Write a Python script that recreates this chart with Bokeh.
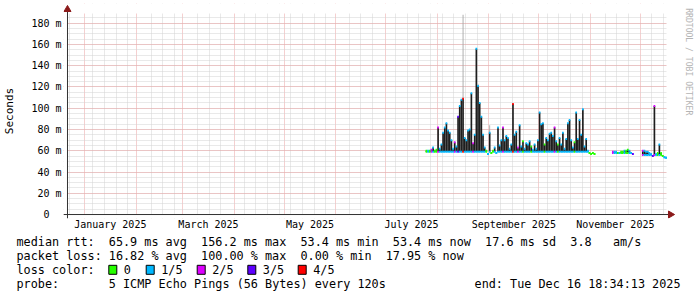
from datetime import datetime, timedelta
from bokeh.plotting import figure
from bokeh.layouts import column, row
from bokeh.models import Range1d, FixedTicker, BoxAnnotation, ColumnDataSource
from bokeh.core.properties import value
from bokeh.embed import file_html
from bokeh.resources import INLINE

# ---------------- data ----------------
graph_start = "2024-12-21 18:34:13"
graph_end = "2025-12-16 18:34:13"

seg_start = ["2025-07-25 12:00", "2025-11-14 12:00", "2025-12-02 12:00"]

med1 = [60, 60, 60, 61, 63, 60, 61, 82, 62, 66,
        77, 82, 86, 79, 77, 70, 62, 68, 64, 92,
        102, 108, 109, 72, 70, 79, 80, 114, 67, 75,
        156, 121, 105, 92, 75, 63, 60, 57, 77, 58,
        60, 63, 58, 82, 65, 70, 82, 70, 74, 72,
        62, 66, 104, 75, 78, 63, 84, 64, 69, 62,
        67, 66, 69, 64, 61, 66, 62, 70, 96, 85,
        86, 66, 72, 70, 76, 77, 74, 82, 69, 66,
        72, 66, 77, 62, 71, 86, 89, 70, 63, 68,
        96, 71, 89, 75, 99, 64, 71, 60, 58, 57,
        58, 57]
loss1 = [0, 1, 0, 2, 1, 0, 0, 2, 1, 1,
         1, 1, 1, 1, 1, 1, 1, 2, 1, 3,
         1, 1, 4, 1, 1, 1, 1, 1, 2, 1,
         1, 1, 1, 1, 1, 1, 0, 1, 1, 0,
         0, 1, 1, 1, 1, 1, 2, 1, 1, 1,
         1, 1, 4, 1, 1, 2, 1, 1, 0, 1,
         1, 1, 1, 0, 1, 1, 1, 1, 1, 1,
         1, 0, 1, 1, 1, 1, 1, 2, 1, 0,
         1, 1, 1, 1, 1, 1, 1, 1, 1, 0,
         1, 1, 1, 1, 1, 1, 1, 1, 0, 0,
         0, 0]
med2 = [59, 59, 59, 58, 58, 59, 59, 60, 60, 61, 60, 58, 57]
loss2 = [2, 1, 1, 0, 1, 0, 0, 1, 0, 0, 1, 1, 3]
med3 = [60, 60, 59, 59, 58, 57, 55, 102, 57, 58, 66, 58, 55, 54, 53.4]
loss3 = [2, 1, 1, 1, 1, 1, 3, 2, 1, 0, 1, 0, 0, 1, 1]
seg_floor = [59, 58, 56]

tail_dates = ["2025-08-16 12:00", "2025-08-25 12:00", "2025-09-01 12:00"]
tail_top = [188, 123, 84]
tail_base = [109, 121, 77]

loss_colors = ["#26ff00", "#00b8ff", "#dd00ff", "#5e00ff", "#ff0000"]
loss_labels = ["0", "1/5", "2/5", "3/5", "4/5"]

y_ticks = [0, 20, 40, 60, 80, 100, 120, 140, 160, 180]
y_tick_labels = ["0\u00a0\u00a0", "20 m", "40 m", "60 m", "80 m", "100 m", "120 m",
                 "140 m", "160 m", "180 m"]
y_top = 189.2
month_labels = ["January 2025", "March 2025", "May 2025", "July 2025",
                "September 2025", "November 2025"]
month_label_months = [1, 3, 5, 7, 9, 11]

stats_rtt = [("median rtt:", 0), ("65.9 ms avg", 13), ("156.2 ms max", 26),
             ("53.4 ms min", 40), ("53.4 ms now", 53), ("17.6 ms sd", 66),
             ("3.8", 78), ("am/s", 84)]
stats_loss = [("packet loss:", 0), ("16.82 % avg", 13), ("100.00 % max", 26),
              ("0.00 % min", 40), ("17.95 % now", 52)]
probe_label = "probe:"
probe_text = "5 ICMP Echo Pings (56 Bytes) every 120s"
end_text = "end: Tue Dec 16 18:34:13 2025"
credit_text = "RRDTOOL / TOBI OETIKER"

# ---------------- helpers ----------------
def ms(dt):
    return (dt - datetime(1970, 1, 1)).total_seconds() * 1000.0

DAY = 86400000.0
t0 = datetime.strptime(graph_start, "%Y-%m-%d %H:%M:%S")
t1 = datetime.strptime(graph_end, "%Y-%m-%d %H:%M:%S")

xs, meds, los, cols = [], [], [], []
for start, med, loss, floor in zip(seg_start, [med1, med2, med3],
                                   [loss1, loss2, loss3], seg_floor):
    s = datetime.strptime(start, "%Y-%m-%d %H:%M")
    for i, (m, l) in enumerate(zip(med, loss)):
        xs.append(ms(s + timedelta(days=i)))
        meds.append(m)
        los.append(min(m, floor))
        cols.append(loss_colors[l])
src = ColumnDataSource(dict(x=xs, med=meds, lo=los, col=cols))
tail_src = ColumnDataSource(dict(
    x=[ms(datetime.strptime(d, "%Y-%m-%d %H:%M")) for d in tail_dates],
    top=tail_top, bottom=tail_base))

MONO = value("DejaVu Sans Mono")

# ---------------- geometry ----------------
W, H = 697, 297
CH_W, CH_H = 676, 232
PL, PR, PT, PB = 66, 666, 13, 215            # rrdtool plot area (canvas px)
FL, FR, FT, FB = 62, 676, 3, 219             # bokeh frame (slightly larger)
ms_per_px = (ms(t1) - ms(t0)) / (PR - PL)
val_per_px = y_top / (PB - PT)
x_lo = ms(t0) - (PL - FL) * ms_per_px
x_hi = ms(t1) + (FR - PR) * ms_per_px
y_lo = -(FB - PB) * val_per_px
y_hi = y_top + (PT - FT) * val_per_px
def xpx(px):
    return ms(t0) + (px - PL) * ms_per_px
def ypx(py):
    return (PB - py) * val_per_px

# ---------------- chart ----------------
p = figure(width=CH_W, height=CH_H, x_axis_type="datetime",
           x_range=Range1d(x_lo, x_hi), y_range=Range1d(y_lo, y_hi),
           output_backend="svg", toolbar_location=None,
           min_border_left=FL, min_border_right=CH_W - FR,
           min_border_top=FT, min_border_bottom=CH_H - FB)
p.outline_line_color = None
p.background_fill_color = "white"
p.border_fill_color = "white"

month_dt = [datetime(2025, m, 1) for m in range(1, 13)]
month_starts = [ms(d) for d in month_dt]
weeks = []
w = datetime(2024, 12, 23)
while w < t1:
    if min(abs((w - d).total_seconds()) for d in month_dt) > 2 * 86400:
        weeks.append(ms(w))
    w += timedelta(days=7)
p.xgrid.ticker = FixedTicker(ticks=month_starts, minor_ticks=weeks)
p.ygrid.ticker = FixedTicker(ticks=y_ticks, minor_ticks=list(range(0, 190, 5)))
for g in (p.xgrid, p.ygrid):
    g.grid_line_color = "#eba0a0"
    g.grid_line_dash = "1 1"
    g.grid_line_width = 1
    g.minor_grid_line_color = "#d2d2d2"
    g.minor_grid_line_dash = "1 1"

# white masks so the grid stays inside the rrdtool plot area
for kw in (dict(bottom=y_top), dict(left=ms(t1)), dict(right=ms(t0)), dict(top=0)):
    p.add_layout(BoxAnnotation(fill_color="white", fill_alpha=1.0, line_color=None,
                               level="underlay", **kw))

label_pos = []
for m in month_label_months:
    a = datetime(2025, m, 1)
    b = datetime(2025, m + 1, 1)
    label_pos.append(int((ms(a) + ms(b)) / 2))
p.xaxis.ticker = FixedTicker(ticks=label_pos)
p.xaxis.major_label_overrides = {k: v for k, v in zip(label_pos, month_labels)}
p.yaxis.ticker = FixedTicker(ticks=y_ticks)
p.yaxis.major_label_overrides = {k: v for k, v in zip(y_ticks, y_tick_labels)}
for ax in (p.xaxis[0], p.yaxis[0]):
    ax.axis_line_color = None
    ax.major_tick_line_color = None
    ax.minor_tick_line_color = None
    ax.major_tick_out = 0
    ax.major_tick_in = 0
    ax.major_label_text_font = "DejaVu Sans Mono"
    ax.major_label_text_font_size = "10px"
    ax.major_label_text_color = "black"
p.xaxis.major_label_standoff = 0
p.yaxis.major_label_standoff = 2
p.yaxis.axis_label = "Seconds"
p.yaxis.axis_label_text_font = "DejaVu Sans Mono"
p.yaxis.axis_label_text_font_size = "11px"
p.yaxis.axis_label_text_font_style = "normal"
p.yaxis.axis_label_text_color = "black"
p.yaxis.axis_label_standoff = 12

# data marks
p.vbar(x="x", bottom="lo", top="med", width=DAY, source=src,
       fill_color="#1e1e1e", line_color=None)
p.vbar(x="x", bottom="bottom", top="top", width=DAY * 0.55, source=tail_src,
       fill_color="#a8a8a8", line_color=None)
p.rect(x="x", y="lo", width=DAY, height=2, height_units="screen",
       source=src, fill_color="col", line_color=None)
p.rect(x="x", y="med", width=DAY, height=2, height_units="screen",
       source=src, fill_color="col", line_color=None)

# rrdtool style axis lines with arrow heads
p.segment(x0=[ms(t0), xpx(62)], y0=[ypx(219), 0], x1=[ms(t0), xpx(670)],
          y1=[ypx(9), 0], line_color="#333333", line_width=1)
p.scatter(x=[ms(t0), xpx(670)], y=[ypx(9), 0], marker="triangle", size=7,
          angle=[0.0, -1.5707963267948966], fill_color="#8b1a1a",
          line_color="#8b1a1a")

# ---------------- right strip (credit) ----------------
def blank(width, height, xr, yr):
    f = figure(width=width, height=height, x_range=Range1d(*xr), y_range=Range1d(*yr),
               output_backend="svg", toolbar_location=None,
               x_axis_location=None, y_axis_location=None, min_border=0)
    f.grid.visible = False
    f.outline_line_color = None
    f.background_fill_color = "white"
    f.border_fill_color = "white"
    return f

strip = blank(W - CH_W, CH_H, (CH_W, W), (CH_H, 0))
strip.text(x=[688], y=[5], text=[credit_text], angle=-1.5707963267948966,
           text_font=MONO, text_font_size=value("8.1px"), text_color="#b4b4b4",
           text_align="left", text_baseline="middle")

# ---------------- legend ----------------
leg = blank(W, H - CH_H, (0, W), (H, CH_H))
CW = 7.1
row_y = [241.3, 255.3, 269.3, 283.5]
tx, ty, tt = [], [], []
for t, c in stats_rtt:
    tx.append(16 + c * CW); ty.append(row_y[0]); tt.append(t)
for t, c in stats_loss:
    tx.append(16 + c * CW); ty.append(row_y[1]); tt.append(t)
tx.append(16); ty.append(row_y[2]); tt.append("loss color:")
box_x = [108.3, 145.7, 196.7, 247.3, 297.7]
for bx, txt in zip(box_x, loss_labels):
    tx.append(bx + 15); ty.append(row_y[2]); tt.append(txt)
tx.append(16); ty.append(row_y[3]); tt.append(probe_label)
tx.append(16 + 13 * CW); ty.append(row_y[3]); tt.append(probe_text)
leg.text(x=tx, y=ty, text=tt, text_font=MONO, text_font_size=value("11.8px"),
         text_color="black", text_align="left", text_baseline="middle")
leg.text(x=[680], y=[row_y[3]], text=[end_text], text_font=MONO,
         text_font_size=value("11.8px"), text_color="black",
         text_align="right", text_baseline="middle")
leg.rect(x=[b + 4 for b in box_x], y=[row_y[2]] * 5, width=8, height=9,
         fill_color=loss_colors, line_color="black", line_width=1)

layout = column(row(p, strip, spacing=0), leg, spacing=0)
open("out.html", "w").write(file_html(layout, INLINE))
